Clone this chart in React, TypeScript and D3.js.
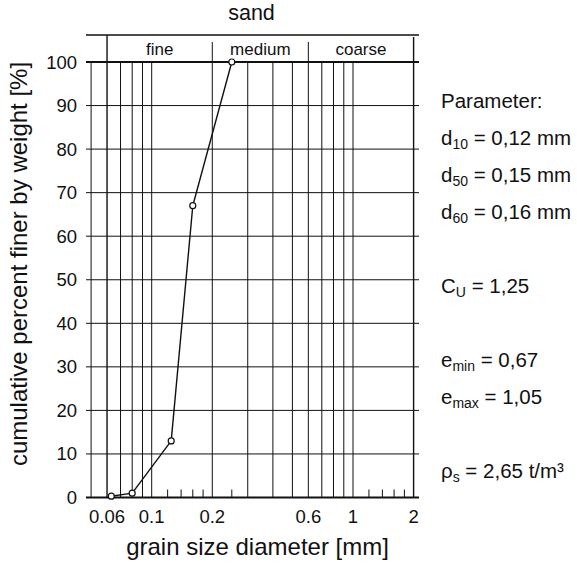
import React from "react";
import * as d3 from "d3";

// Sieve analysis of the sand sample
const grainSize = [0.063, 0.08, 0.125, 0.16, 0.25]; // mm
const percentFiner = [0.3, 1, 13, 67, 100]; // %

// Axis ticks and grid
const yTicks = [0, 10, 20, 30, 40, 50, 60, 70, 80, 90, 100];
const xTickLabels = [0.06, 0.1, 0.2, 0.6, 1, 2];
const xGridLines = [0.05, 0.06, 0.07, 0.08, 0.09, 0.1, 0.2, 0.3, 0.4, 0.5, 0.6, 0.7, 0.8, 0.9, 1, 2];
const xMinorTicks = [0.12, 0.14, 0.16, 0.18, 0.25, 1.2, 1.4, 1.6, 1.8];

// Sand fractions shown in the header band
const fractionNames = ["fine", "medium", "coarse"];
const fractionBounds = [0.06, 0.2, 0.6, 2];

// Soil parameters listed beside the chart
const paramSymbols = ["d", "d", "d", "C", "e", "e", "\u03c1"];
const paramSubs = ["10", "50", "60", "U", "min", "max", "s"];
const paramValues = [" = 0,12 mm", " = 0,15 mm", " = 0,16 mm", " = 1,25", " = 0,67", " = 1,05", " = 2,65 t/m\u00b3"];
const paramRows = [1, 2, 3, 5, 7, 8, 10];

const W = 577;
const H = 563;
const FONT = "'Liberation Sans', Arial, Helvetica, sans-serif";

export default function App() {
  const x = d3.scaleLog().domain([0.05, 2]).range([91.1, 413.6]);
  const y = d3.scaleLinear().domain([0, 100]).range([497.5, 62]);

  const left = 86;
  const right = 419;
  const headerTop = 35;

  const pts: [number, number][] = grainSize.map((g, i) => [x(g), y(percentFiner[i])]);
  const line = d3.line().curve(d3.curveLinear)(pts) || "";

  return (
    <svg
      width={W}
      height={H}
      style={{ position: "absolute", left: 0, top: 0, background: "#fff" }}
      fontFamily={FONT}
    >
      <rect width={W} height={H} fill="#fff" />

      {/* title */}
      <text x={251.5} y={20} fontSize={21.5} textAnchor="middle" fill="#111">
        sand
      </text>

      {/* header band */}
      <line x1={left} x2={right} y1={headerTop} y2={headerTop} stroke="#111" strokeWidth={1.4} />
      {fractionBounds.slice(1, 3).map((b) => (
        <line key={b} x1={x(b)} x2={x(b)} y1={42} y2={y(100)} stroke="#111" strokeWidth={1} />
      ))}
      {fractionNames.map((n, i) => (
        <text
          key={n}
          x={(x(fractionBounds[i]) + x(fractionBounds[i + 1])) / 2}
          y={55}
          fontSize={17}
          textAnchor="middle"
          fill="#111"
        >
          {n}
        </text>
      ))}

      {/* horizontal grid lines with ticks on both sides */}
      {yTicks.map((t) => (
        <line
          key={t}
          x1={left}
          x2={right}
          y1={y(t)}
          y2={y(t)}
          stroke="#111"
          strokeWidth={t === 0 || t === 100 ? 2 : 1}
        />
      ))}

      {/* vertical grid lines */}
      {xGridLines.map((g) => (
        <line
          key={g}
          x1={x(g)}
          x2={x(g)}
          y1={g === 0.06 ? headerTop : g === 2 ? 37 : y(100)}
          y2={y(0)}
          stroke="#111"
          strokeWidth={g === 0.06 || g === 2 ? 1.4 : 1}
        />
      ))}

      {/* minor ticks on the x axis */}
      {xMinorTicks.map((g) => (
        <line key={g} x1={x(g)} x2={x(g)} y1={y(0) - 8} y2={y(0)} stroke="#111" strokeWidth={1} />
      ))}

      {/* y tick labels */}
      {yTicks.map((t) => (
        <text key={t} x={77} y={y(t) + 6.5} fontSize={18.5} textAnchor="end" fill="#111">
          {t}
        </text>
      ))}

      {/* x tick labels */}
      {xTickLabels.map((t) => (
        <text key={t} x={x(t)} y={523} fontSize={18.5} textAnchor="middle" fill="#111">
          {String(t)}
        </text>
      ))}

      {/* axis titles */}
      <text x={257.5} y={555} fontSize={24} textAnchor="middle" fill="#111">
        grain size diameter [mm]
      </text>
      <text
        transform="translate(27,264) rotate(-90)"
        fontSize={24}
        textAnchor="middle"
        fill="#111"
      >
        cumulative percent finer by weight [%]
      </text>

      {/* grain size distribution curve */}
      <path d={line} fill="none" stroke="#111" strokeWidth={1.4} strokeLinejoin="round" />
      {pts.map(([px, py], i) => (
        <circle key={i} cx={px} cy={py} r={3} fill="#fff" stroke="#111" strokeWidth={1.2} />
      ))}

      {/* parameter list */}
      <text x={441} y={108} fontSize={20.5} fill="#111">
        Parameter:
      </text>
      {paramSymbols.map((s, i) => (
        <text key={i} x={441} y={108 + 37 * paramRows[i]} fontSize={20.5} fill="#111">
          <tspan>{s}</tspan>
          <tspan dy={4} fontSize={14}>
            {paramSubs[i]}
          </tspan>
          <tspan dy={-4}>{paramValues[i]}</tspan>
        </text>
      ))}
    </svg>
  );
}
